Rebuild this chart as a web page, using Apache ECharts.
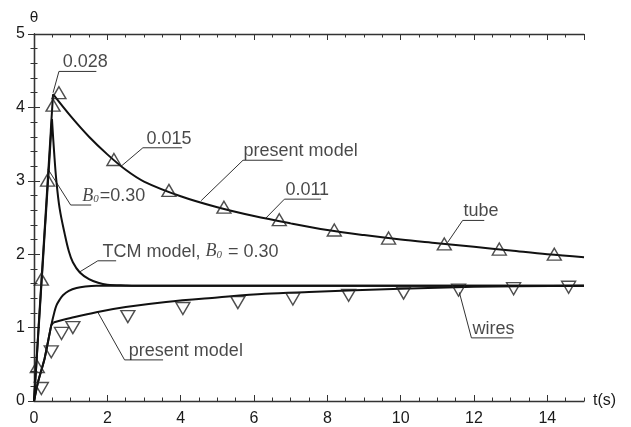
<!DOCTYPE html>
<html>
<head>
<meta charset="utf-8">
<script src="https://cdn.jsdelivr.net/npm/echarts@6/dist/echarts.min.js"></script>
<style>
  html, body { margin: 0; padding: 0; background: #fff; }
  #main { width: 631px; height: 427px; }
</style>
</head>
<body>
<div id="main"></div>
<script>
// curves, [t (s), theta]
const tubeModel = [[0, 0], [0.52, 4.18], [1, 3.88], [1.5, 3.6], [2, 3.36], [2.5, 3.15], [3, 2.99], [4, 2.79], [5, 2.64], [6, 2.52], [7, 2.42], [8, 2.33], [9, 2.26], [10, 2.2], [11, 2.15], [12, 2.1], [13, 2.05], [14, 2.0], [15, 1.96]]
const tcmTube = [[0, 0], [0.49, 3.84], [0.55, 3.38], [0.61, 3.0], [0.7, 2.62], [0.84, 2.27], [0.95, 2.04], [1.06, 1.89], [1.25, 1.75], [1.5, 1.66], [1.75, 1.61], [2, 1.585], [2.5, 1.575], [3, 1.57], [15, 1.57]]
const tcmWires = [[0, 0], [0.11, 0.26], [0.29, 0.58], [0.47, 1.03], [0.55, 1.2], [0.61, 1.3], [0.7, 1.38], [0.79, 1.44], [0.95, 1.5], [1.16, 1.54], [1.4, 1.56], [1.7, 1.57], [15, 1.57]]
const wiresModel = [[0, 0], [0.11, 0.26], [0.29, 0.58], [0.47, 1.03], [0.53, 1.07], [1, 1.13], [1.7, 1.21], [2.5, 1.28], [3.6, 1.35], [5, 1.41], [6.3, 1.46], [7.5, 1.485], [10, 1.53], [12, 1.555], [15, 1.57]]

// measured points
const tubePts = [[0.09, 0.47], [0.2, 1.66], [0.37, 3.01], [0.52, 4.03], [0.68, 4.2], [2.18, 3.29], [3.68, 2.87], [5.18, 2.64], [6.69, 2.47], [8.19, 2.33], [9.67, 2.22], [11.19, 2.14], [12.69, 2.07], [14.19, 2.0]]
const wiresPts = [[0.2, 0.17], [0.47, 0.67], [0.75, 0.92], [1.06, 1.0], [2.56, 1.15], [4.06, 1.26], [5.56, 1.34], [7.06, 1.39], [8.58, 1.44], [10.08, 1.47], [11.58, 1.51], [13.08, 1.53], [14.58, 1.55]]

// annotations: leader line (curve point -> corner -> end of underline), text anchor
const notes = [
  { text: '0.028', line: [[0.52, 4.2], [0.68, 4.49], [1.70, 4.49]], at: [0.76, 4.49] },
  { text: '0.015', line: [[2.38, 3.2], [2.97, 3.45], [4.04, 3.45]], at: [3.04, 3.45] },
  { text: 'present model', line: [[4.56, 2.73], [5.70, 3.28], [6.78, 3.28]], at: [5.69, 3.28] },
  { text: '0.011', line: [[6.3, 2.48], [6.83, 2.75], [7.83, 2.75]], at: [6.83, 2.75] },
  { text: '{b|B}{s|0}=0.30', line: [[0.38, 3.16], [1.0, 2.67], [1.56, 2.67]], at: [1.29, 2.67] },
  { text: 'TCM model, {b|B}{s|0} = 0.30', line: [[1.25, 1.76], [1.74, 1.91], [2.24, 1.91]], at: [1.84, 1.91] },
  { text: 'present model', line: [[1.74, 1.21], [2.47, 0.56], [3.52, 0.56]], at: [2.56, 0.56] },
  { text: 'tube', line: [[11.28, 2.16], [11.69, 2.46], [12.28, 2.46]], at: [11.69, 2.46] },
  { text: 'wires', line: [[11.6, 1.48], [11.93, 0.86], [13.05, 0.86]], at: [11.93, 0.86] }
]

const ink = '#1a1a1a'
const font = 'Liberation Sans'

function xAxisOf(position, step, tickLen, showLabel, showLine) {
  return {
    type: 'value',
    position: position,
    min: 0,
    max: 15,
    interval: step,
    name: showLabel ? 't(s)' : '',
    nameLocation: 'end',
    nameGap: 9,
    nameTextStyle: { color: ink, fontFamily: font, fontSize: 16 },
    axisLine: { show: showLine, lineStyle: { color: '#333', width: 1.3 } },
    axisTick: { show: true, inside: true, length: tickLen, lineStyle: { color: '#333', width: 1 } },
    axisLabel: { show: showLabel, showMaxLabel: false, margin: 10, color: ink, fontFamily: font, fontSize: 16 },
    splitLine: { show: false }
  }
}

function yAxisOf(position, showLabel) {
  return {
    type: 'value',
    position: position,
    min: 0,
    max: 5,
    interval: 1,
    name: showLabel ? 'θ' : '',
    nameLocation: 'end',
    nameGap: 9,
    nameTextStyle: { color: ink, fontFamily: 'DejaVu Sans', fontSize: 14 },
    axisLine: { show: true, lineStyle: { color: '#333', width: 1.3 } },
    axisTick: { show: true, inside: true, length: 6, lineStyle: { color: '#333', width: 1 } },
    minorTick: { show: true, splitNumber: 5, length: 3.5, lineStyle: { color: '#333', width: 1 } },
    axisLabel: { show: showLabel, margin: 9, color: ink, fontFamily: font, fontSize: 16 },
    splitLine: { show: false }
  }
}

function lineOf(data, smooth) {
  return {
    type: 'line',
    data: data,
    smooth: smooth,
    symbol: 'none',
    lineStyle: { color: '#111', width: 2 },
    z: 3,
    silent: true
  }
}

// a curve with a sharp corner at index k: straight rise, smooth tail
function curve(data, k) {
  if (!k) return [lineOf(data, 0.35)]
  return [lineOf(data.slice(0, k + 1), false), lineOf(data.slice(k), 0.35)]
}

function marks(data, rotate) {
  return {
    type: 'scatter',
    data: data,
    symbol: 'triangle',
    symbolRotate: rotate,
    symbolSize: [14, 12],
    itemStyle: { color: 'rgba(0,0,0,0)', borderColor: '#222', borderWidth: 1.4 },
    z: 4,
    silent: true
  }
}

const rich = {
  b: { fontFamily: 'Liberation Serif', fontStyle: 'italic', fontSize: 18, color: ink },
  s: { fontFamily: 'Liberation Serif', fontStyle: 'italic', fontSize: 11, color: ink, verticalAlign: 'bottom', padding: [0, 1, 0, 0] }
}

const series = [].concat(
  curve(tubeModel, 1),
  curve(tcmTube, 1),
  curve(tcmWires, 0),
  curve(wiresModel, 4),
  [marks(tubePts, 0), marks(wiresPts, 180)]
)

notes.forEach(n => {
  series.push({
    type: 'line',
    data: n.line,
    symbol: 'none',
    lineStyle: { color: '#333', width: 1 },
    z: 2,
    silent: true
  })
})

series.push({
  type: 'scatter',
  data: notes.map(n => ({ value: n.at, text: n.text })),
  symbolSize: 0.1,
  itemStyle: { color: 'rgba(0,0,0,0)' },
  label: {
    show: true,
    position: [1, 0],
    align: 'left',
    verticalAlign: 'bottom',
    color: ink,
    fontFamily: font,
    fontSize: 18,
    formatter: p => p.data.text,
    rich: rich
  },
  z: 5,
  silent: true
})

const option = {
  animation: false,
  backgroundColor: '#fff',
  grid: { left: 34, right: 47, top: 34, bottom: 24 },
  xAxis: [
    xAxisOf('bottom', 2, 6, true, true),
    xAxisOf('bottom', 0.5, 3.5, false, false),
    xAxisOf('top', 2, 6, false, true),
    xAxisOf('top', 0.5, 3.5, false, false)
  ],
  yAxis: [
    yAxisOf('left', true),
    yAxisOf('right', false)
  ],
  series: series
}

const myChart = echarts.init(document.getElementById('main'))
myChart.setOption(option)
</script>
</body>
</html>
